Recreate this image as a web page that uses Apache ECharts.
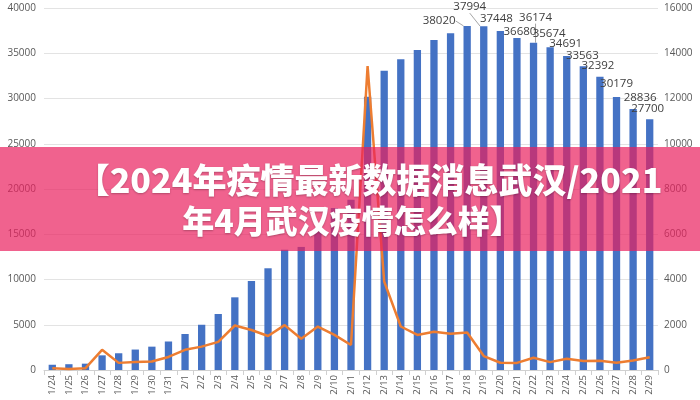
<!DOCTYPE html>
<html>
<head>
<meta charset="utf-8">
<script src="https://cdn.jsdelivr.net/npm/echarts@6/dist/echarts.min.js"></script>
<style>html,body{margin:0;padding:0;background:#fff;}#c{width:700px;height:400px;}</style>
</head>
<body>
<div id="c"></div>
<script>
// Categories (dates)
var categories = ['1/24','1/25','1/26','1/27','1/28','1/29','1/30','1/31',
  '2/1','2/2','2/3','2/4','2/5','2/6','2/7','2/8','2/9','2/10','2/11','2/12','2/13','2/14','2/15',
  '2/16','2/17','2/18','2/19','2/20','2/21','2/22','2/23','2/24','2/25','2/26','2/27','2/28','2/29'];
// Bars (left axis): existing confirmed
var barValues = [580, 640, 700, 1620, 1850, 2260, 2580, 3150, 3980, 5000, 6190, 8030, 9830, 11240,
  13300, 13600, 15700, 17900, 18800, 30200, 33070, 34330, 35360, 36465, 37200,
  38020, 37994, 37448, 36680, 36174, 35674, 34691, 33563, 32392, 30179, 28836, 27700];
// Line (right axis): new cases
var lineValues = [77, 46, 80, 892, 315, 356, 378, 576, 894, 1033, 1242, 1967, 1766, 1501, 1985, 1379,
  1921, 1552, 1104, 13436, 3910, 1923, 1548, 1690, 1600, 1660, 615, 319, 314, 541, 348, 499, 401,
  409, 318, 420, 565];
// Which bars show a value label (from 2/18 on)
var labelStart = 25;
// Axis ticks
var leftTicks = {min: 0, max: 40000, interval: 5000};
var rightTicks = {min: 0, max: 16000, interval: 2000};
// Banner title
var titleLine1 = '【2024年疫情最新数据消息武汉/2021';
var titleLine2 = '年4月武汉疫情怎么样】';

// label centre offsets from bar top-centre (style only)
var labelOffsets = {25: [-28, -5], 26: [-14, -19], 27: [-4, -12], 28: [3, -6], 29: [2, -25], 30: [-1, -13],
  31: [-1, -12], 32: [-1, -11], 33: [-2, -11], 34: [0, -13], 35: [7, -11], 36: [-2, -11]};
var withLine = {25: true, 26: true, 29: true};

var barData = barValues.map(function (v, i) {
  var item = {value: v};
  if (i >= labelStart) {
    item.label = {show: true};
    if (withLine[i]) item.labelLine = {show: true};
  }
  return item;
});

var chart = echarts.init(document.getElementById('c'));
var axisFont = {color: '#595959', fontSize: 10, fontFamily: 'Open Sans, sans-serif', formatter: function (v) { return String(v); }};
chart.setOption({
  animation: false,
  backgroundColor: '#fff',
  grid: {left: 44, right: 42, top: 8, bottom: 30},
  xAxis: {
    type: 'category',
    data: categories,
    boundaryGap: true,
    axisLine: {lineStyle: {color: '#D0D0D0'}},
    axisTick: {show: true, length: 5, lineStyle: {color: '#D0D0D0'}},
    axisLabel: {rotate: 90, interval: 0, color: '#595959', fontSize: 9.5, fontFamily: 'Open Sans, sans-serif', margin: 5}
  },
  yAxis: [{
    type: 'value', min: leftTicks.min, max: leftTicks.max, interval: leftTicks.interval,
    axisLine: {show: false}, axisTick: {show: false},
    axisLabel: Object.assign({margin: 8}, axisFont),
    splitLine: {lineStyle: {color: '#E3E3E3'}}
  }, {
    type: 'value', min: rightTicks.min, max: rightTicks.max, interval: rightTicks.interval,
    axisLine: {show: false}, axisTick: {show: false},
    axisLabel: Object.assign({margin: 6}, axisFont),
    splitLine: {show: false}
  }],
  series: [{
    type: 'bar',
    data: barData,
    barWidth: '44%',
    itemStyle: {color: '#4472C4'},
    label: {show: false, position: 'top', distance: 5, color: '#404040', fontSize: 11.5, fontFamily: 'Open Sans, sans-serif'},
    labelLine: {show: false, lineStyle: {color: '#A6A6A6', width: 1}},
    labelLayout: function (p) {
      var off = labelOffsets[p.dataIndex];
      if (!off) return {};
      var cx = p.rect.x + p.rect.width / 2 + off[0];
      var cy = p.rect.y + off[1];
      return {x: cx - p.labelRect.width / 2, y: cy - p.labelRect.height / 2};
    },
    z: 2
  }, {
    type: 'line',
    yAxisIndex: 1,
    data: lineValues,
    symbol: 'none',
    lineStyle: {color: '#ED7D31', width: 2.5},
    itemStyle: {color: '#ED7D31'},
    z: 3
  }],
  graphic: [{
    type: 'rect', z: 100, left: 0, top: 147,
    shape: {width: 700, height: 104},
    style: {fill: 'rgba(234, 31, 94, 0.7)'}
  }, {
    type: 'text', z: 101, x: 369, y: 180,
    style: {text: titleLine1, fill: '#fff', font: '900 34px "Noto Sans CJK SC", sans-serif',
      align: 'center', verticalAlign: 'middle', textAlign: 'center', textVerticalAlign: 'middle',
      textShadowColor: 'rgba(0,0,0,0.25)', textShadowBlur: 2, textShadowOffsetY: 1}
  }, {
    type: 'text', z: 101, x: 352, y: 221,
    style: {text: titleLine2, fill: '#fff', font: '900 32px "Noto Sans CJK SC", sans-serif',
      align: 'center', verticalAlign: 'middle', textAlign: 'center', textVerticalAlign: 'middle',
      textShadowColor: 'rgba(0,0,0,0.25)', textShadowBlur: 2, textShadowOffsetY: 1}
  }]
});
</script>
</body>
</html>
